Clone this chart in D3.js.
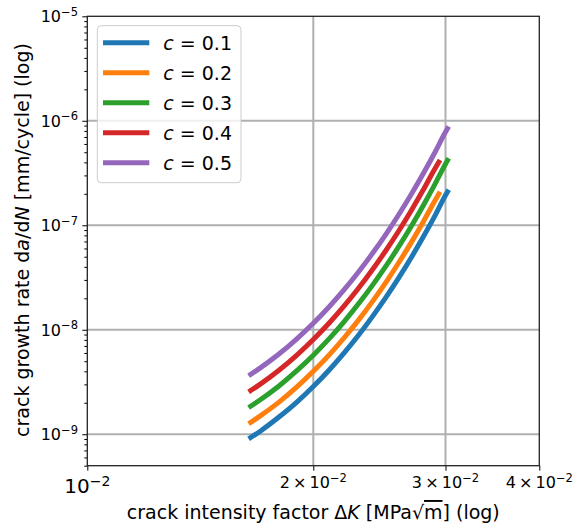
<!DOCTYPE html>
<html>
  <head>
    <title>crack growth rate</title>
    <script src="https://d3js.org/d3.v7.min.js"></script>
  </head>
  <style>
    body {
      margin: 0;
      background-color: #fff;
      font-family: 'DejaVu Sans', sans-serif;
    }
    text { fill: #000; }
  </style>
  <body>
    <svg></svg>
    <script>

      // values
      var cLabels = ['0.1', '0.2', '0.3', '0.4', '0.5'];
      var colors = ['#1f77b4', '#ff7f0e', '#2ca02c', '#d62728', '#9467bd'];

      var dkLong = [0.0164, 0.017, 0.018, 0.019, 0.020, 0.021, 0.022, 0.023, 0.024, 0.025, 0.026, 0.027, 0.028, 0.029, 0.030, 0.0303];
      var dkShort = [0.0164, 0.017, 0.018, 0.019, 0.020, 0.021, 0.022, 0.023, 0.024, 0.025, 0.026, 0.027, 0.028, 0.029, 0.0295];

      var rateC1 = [9.02e-10, 1.07e-9, 1.46e-9, 2.02e-9, 2.86e-9, 4.12e-9, 6.04e-9, 8.95e-9, 1.35e-8, 2.05e-8, 3.15e-8, 4.89e-8, 7.67e-8, 1.21e-7, 1.94e-7, 2.19e-7];
      var rateC2 = [1.26e-9, 1.50e-9, 2.03e-9, 2.82e-9, 4.00e-9, 5.75e-9, 8.43e-9, 1.25e-8, 1.88e-8, 2.86e-8, 4.40e-8, 6.82e-8, 1.07e-7, 1.69e-7, 2.09e-7];
      var rateC3 = [1.80e-9, 2.14e-9, 2.90e-9, 4.04e-9, 5.71e-9, 8.22e-9, 1.205e-8, 1.79e-8, 2.69e-8, 4.08e-8, 6.28e-8, 9.75e-8, 1.53e-7, 2.42e-7, 3.86e-7, 4.37e-7];
      var rateC4 = [2.54e-9, 3.02e-9, 4.10e-9, 5.70e-9, 8.07e-9, 1.16e-8, 1.70e-8, 2.52e-8, 3.79e-8, 5.77e-8, 8.87e-8, 1.38e-7, 2.16e-7, 3.42e-7, 4.22e-7];
      var rateC5 = [3.63e-9, 4.32e-9, 5.86e-9, 8.15e-9, 1.153e-8, 1.66e-8, 2.43e-8, 3.61e-8, 5.42e-8, 8.24e-8, 1.268e-7, 1.968e-7, 3.09e-7, 4.89e-7, 7.80e-7, 8.81e-7];

      var xMajorTicks = [1e-2];
      var xMinorTicks = [2e-2, 3e-2, 4e-2];
      var xMinorMant = ['2', '3', '4'];
      var xGridTicks = [2e-2, 3e-2];
      var yMajorTicks = [1e-9, 1e-8, 1e-7, 1e-6, 1e-5];
      var yExps = ['9', '8', '7', '6', '5'];

      var series = [
        {dk: dkLong, rate: rateC1},
        {dk: dkShort, rate: rateC2},
        {dk: dkLong, rate: rateC3},
        {dk: dkShort, rate: rateC4},
        {dk: dkLong, rate: rateC5}
      ];

      var width = 586;
      var height = 526;
      // plot box (window.top is reserved, so use prefixed names)
      var pLeft = 87.3, pRight = 539.3, pTop = 16.3, pBottom = 465.7;

      var svg = d3.select('svg')
        .attr('width', width)
        .attr('height', height);

      var x = d3.scaleLog().domain([1e-2, 4e-2]).range([pLeft, pRight]);
      var y = d3.scaleLog().domain([5e-10, 1e-5]).range([pBottom, pTop]);

      // minor y ticks 2..9 per decade
      var yMinorTicks = [];
      for (var k = -10; k <= -6; k++) {
        for (var m = 2; m <= 9; m++) {
          var v = m * Math.pow(10, k);
          if (v >= 5e-10 && v <= 1e-5) yMinorTicks.push(v);
        }
      }

      // grid
      svg.append('g').selectAll('line')
        .data(yMajorTicks.slice(0, 4))
        .enter().append('line')
        .attr('x1', pLeft).attr('x2', pRight)
        .attr('y1', function (d) { return y(d); })
        .attr('y2', function (d) { return y(d); })
        .style('stroke', '#b0b0b0')
        .style('stroke-width', 2);

      svg.append('g').selectAll('line')
        .data(xGridTicks)
        .enter().append('line')
        .attr('y1', pTop).attr('y2', pBottom)
        .attr('x1', function (d) { return x(d); })
        .attr('x2', function (d) { return x(d); })
        .style('stroke', '#b0b0b0')
        .style('stroke-width', 2);

      // curves
      svg.append('clipPath').attr('id', 'clip')
        .append('rect')
        .attr('x', pLeft).attr('y', pTop)
        .attr('width', pRight - pLeft).attr('height', pBottom - pTop);

      var line = d3.line()
        .x(function (d) { return x(d[0]); })
        .y(function (d) { return y(d[1]); })
        .curve(d3.curveMonotoneX);

      svg.append('g').attr('clip-path', 'url(#clip)')
        .selectAll('path')
        .data(series)
        .enter().append('path')
        .attr('d', function (s) { return line(d3.zip(s.dk, s.rate)); })
        .style('fill', 'none')
        .style('stroke', function (s, i) { return colors[i]; })
        .style('stroke-width', 5)
        .style('stroke-linecap', 'butt');

      // axes (ticks only, labels are drawn below)
      function cleanAxis(g) {
        g.select('.domain').remove();
        g.selectAll('.tick line').style('stroke', '#000').style('stroke-width', 1);
        g.selectAll('.tick text').remove();
      }

      svg.append('g')
        .attr('transform', 'translate(0,' + pBottom + ')')
        .call(d3.axisBottom(x).tickValues(xMajorTicks.concat(xMinorTicks)).tickSize(5))
        .call(cleanAxis);

      svg.append('g')
        .attr('transform', 'translate(' + pLeft + ',0)')
        .call(d3.axisLeft(y).tickValues(yMajorTicks).tickSize(5))
        .call(cleanAxis);

      svg.append('g')
        .attr('transform', 'translate(' + pLeft + ',0)')
        .call(d3.axisLeft(y).tickValues(yMinorTicks).tickSize(3))
        .call(cleanAxis);

      // frame
      svg.append('rect')
        .attr('x', pLeft).attr('y', pTop)
        .attr('width', pRight - pLeft).attr('height', pBottom - pTop)
        .style('fill', 'none')
        .style('stroke', '#222')
        .style('stroke-width', 1.3);

      // y tick labels
      var yLab = svg.append('g').selectAll('text')
        .data(yMajorTicks)
        .enter().append('text')
        .attr('x', 78)
        .attr('y', function (d) { return y(d) + 6; })
        .attr('text-anchor', 'end')
        .style('font-size', '16px');
      yLab.append('tspan').text('10');
      yLab.append('tspan')
        .attr('dy', '-0.55em')
        .style('font-size', '11.5px')
        .text(function (d, i) { return '\u2212' + yExps[i]; });

      // x tick labels
      var xMaj = svg.append('text')
        .attr('x', x(1e-2))
        .attr('y', 493)
        .attr('text-anchor', 'middle')
        .style('font-size', '20px');
      xMaj.append('tspan').text('10');
      xMaj.append('tspan').attr('dy', '-0.5em').style('font-size', '14px').text('\u22122');

      var xMin = svg.append('g').selectAll('text')
        .data(xMinorTicks)
        .enter().append('text')
        .attr('x', function (d) { return x(d); })
        .attr('y', 488)
        .attr('text-anchor', 'middle')
        .style('font-size', '16px');
      xMin.append('tspan').text(function (d, i) { return xMinorMant[i] + '\u2009\u00d7\u200910'; });
      xMin.append('tspan').attr('dy', '-0.55em').style('font-size', '11.5px').text('\u22122');

      // axis titles
      var xt = svg.append('text')
        .attr('x', (pLeft + pRight) / 2)
        .attr('y', 519)
        .attr('text-anchor', 'middle')
        .style('font-size', '19px');
      xt.append('tspan').text('crack intensity factor \u0394');
      xt.append('tspan').style('font-style', 'italic').text('K');
      xt.append('tspan').text(' [MPa\u221a');
      xt.append('tspan').style('text-decoration', 'overline').text('m');
      xt.append('tspan').text('] (log)');

      var yt = svg.append('text')
        .attr('transform', 'translate(29,240)rotate(-90)')
        .attr('text-anchor', 'middle')
        .style('font-size', '19px');
      yt.append('tspan').text('crack growth rate d');
      yt.append('tspan').style('font-style', 'italic').text('a');
      yt.append('tspan').text('/d');
      yt.append('tspan').style('font-style', 'italic').text('N');
      yt.append('tspan').text(' [mm/cycle] (log)');

      // legend
      var legend = svg.append('g');
      legend.append('rect')
        .attr('x', 97.3).attr('y', 25.7)
        .attr('width', 143.7).attr('height', 157)
        .attr('rx', 4)
        .style('fill', '#fff')
        .style('fill-opacity', 0.8)
        .style('stroke', '#cccccc')
        .style('stroke-width', 1);

      var items = legend.selectAll('.item')
        .data(cLabels)
        .enter().append('g').attr('class', 'item')
        .attr('transform', function (d, i) { return 'translate(0,' + (42.7 + i * 30) + ')'; });

      items.append('line')
        .attr('x1', 103).attr('x2', 149.3)
        .style('stroke', function (d, i) { return colors[i]; })
        .style('stroke-width', 5);

      var lt = items.append('text')
        .attr('x', 163.3)
        .attr('y', 7)
        .style('font-size', '19px');
      lt.append('tspan').style('font-style', 'italic').text('c');
      lt.append('tspan').text(function (d) { return ' = ' + d; });

    </script>
  </body>
</html>
